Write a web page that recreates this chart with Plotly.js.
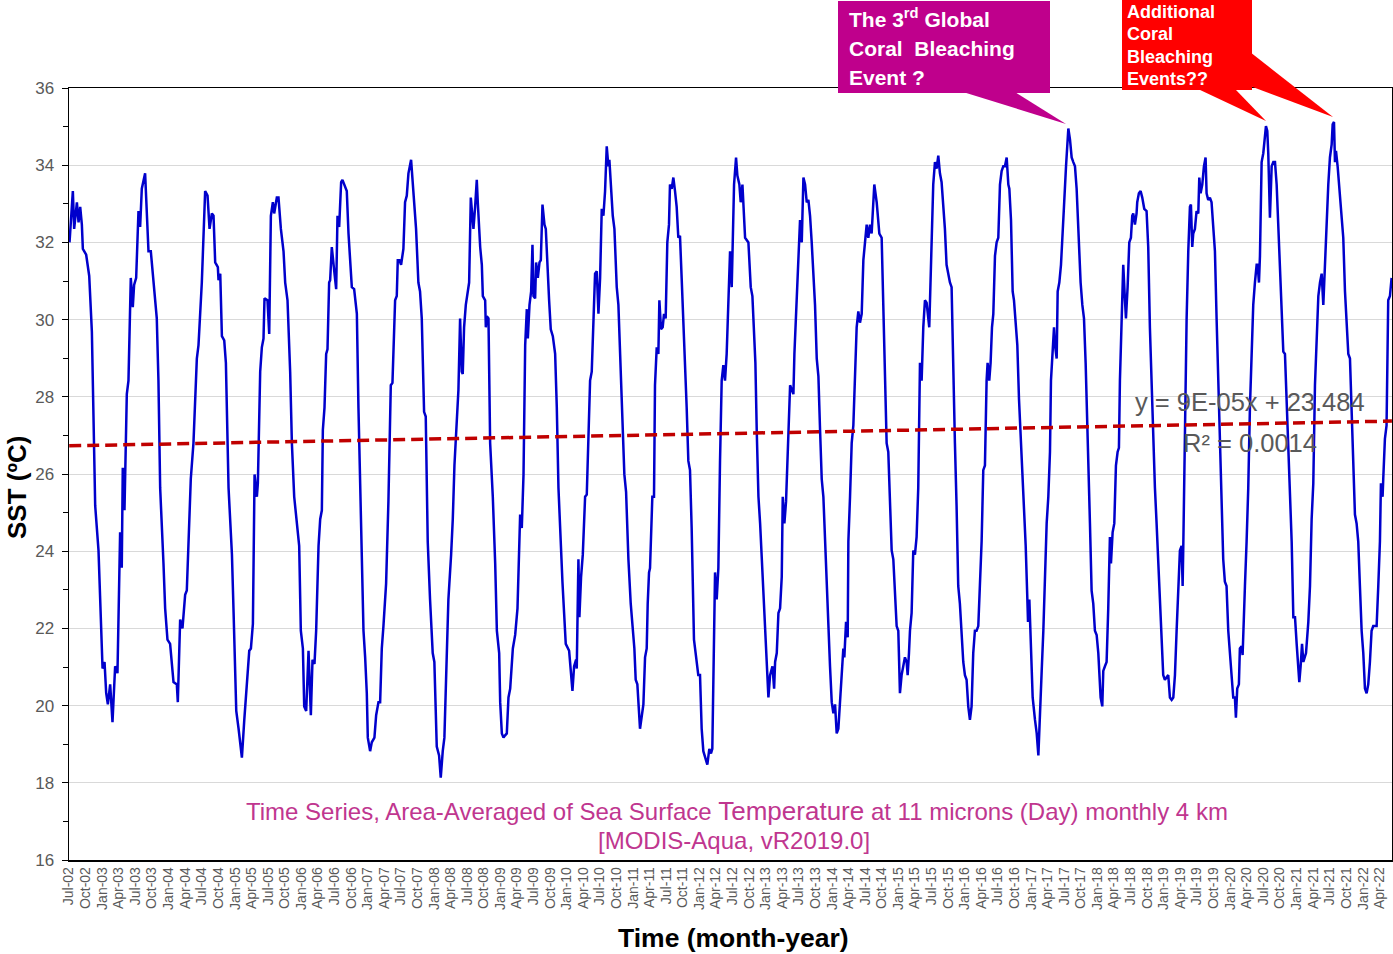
<!DOCTYPE html>
<html>
<head>
<meta charset="utf-8">
<script src="https://cdn.plot.ly/plotly-3.0.1.min.js"></script>
<style>
html,body{margin:0;padding:0;background:#fff;}
#chart{width:1393px;height:954px;}
</style>
</head>
<body>
<div id="chart"></div>
<script>
// Time as decimal year, SST in degrees C
const sstTime = [
2002.505,2002.555,2002.575,2002.616,2002.641,2002.666,2002.691,2002.706,2002.756,2002.802,
2002.842,2002.867,2002.892,2002.942,2002.968,2003.003,2003.033,2003.058,2003.083,2003.118,
2003.153,2003.193,2003.228,2003.268,2003.293,2003.308,2003.334,2003.369,2003.394,2003.429,
2003.459,2003.479,2003.510,2003.545,2003.570,2003.595,2003.645,2003.696,2003.731,2003.796,
2003.821,2003.846,2003.872,2003.922,2003.947,2003.982,2004.022,2004.073,2004.123,2004.138,
2004.173,2004.208,2004.248,2004.273,2004.298,2004.333,2004.373,2004.424,2004.449,2004.499,
2004.549,2004.585,2004.615,2004.650,2004.675,2004.700,2004.740,2004.750,2004.776,2004.801,
2004.836,2004.861,2004.901,2004.952,2004.977,2005.017,2005.052,2005.077,2005.102,2005.138,
2005.178,2005.213,2005.238,2005.268,2005.293,2005.328,2005.343,2005.378,2005.403,2005.428,
2005.443,2005.488,2005.514,2005.539,2005.569,2005.589,2005.629,2005.654,2005.690,2005.730,
2005.755,2005.790,2005.830,
2005.856,2005.891,2005.931,2005.966,2005.991,2006.022,2006.042,2006.072,2006.107,2006.142,
2006.167,2006.197,2006.222,2006.258,2006.283,2006.308,2006.323,2006.348,2006.373,2006.393,
2006.418,2006.433,2006.458,2006.474,2006.499,2006.524,2006.544,2006.569,2006.599,2006.619,
2006.659,2006.684,2006.710,2006.735,2006.760,2006.795,2006.836,2006.860,2006.885,2006.911,
2006.936,2006.961,2006.986,2007.001,2007.036,2007.061,2007.101,2007.127,2007.162,2007.187,
2007.212,2007.237,2007.277,2007.312,2007.348,2007.373,2007.398,2007.413,2007.438,2007.453,
2007.478,2007.503,2007.538,2007.563,2007.589,2007.614,2007.654,2007.689,2007.729,2007.764,
2007.789,2007.815,2007.850,2007.875,2007.905,2007.940,2007.980,2008.005,2008.041,2008.076,
2008.101,2008.131,2008.156,2008.181,2008.216,2008.257,2008.282,2008.307,2008.342,2008.367,
2008.392,2008.417,2008.432,2008.452,2008.478,2008.503,2008.528,2008.553,2008.578,2008.593,
2008.618,2008.643,2008.658,2008.679,2008.694,2008.719,2008.734,2008.769,2008.779,2008.794,
2008.819,2008.844,2008.884,2008.920,2008.945,2008.980,2008.995,2009.020,2009.045,2009.070,
2009.095,2009.120,2009.146,
2009.186,2009.221,2009.256,2009.281,2009.296,2009.321,2009.347,2009.372,2009.397,2009.412,
2009.437,2009.462,2009.482,2009.497,2009.522,2009.537,2009.563,2009.588,2009.608,2009.633,
2009.663,2009.683,2009.708,2009.733,2009.758,2009.789,2009.824,2009.849,2009.874,2009.899,
2009.934,2009.959,2009.984,2010.035,2010.060,2010.085,2010.110,2010.140,2010.150,2010.175,
2010.190,2010.215,2010.241,2010.276,2010.301,2010.326,2010.351,2010.376,2010.401,2010.426,
2010.452,2010.477,2010.502,2010.527,2010.552,2010.577,2010.602,2010.627,2010.642,2010.667,
2010.693,2010.718,2010.753,2010.778,2010.813,2010.843,2010.868,2010.894,2010.929,2010.964,
2010.994,2011.019,2011.039,2011.064,2011.104,2011.140,2011.155,2011.180,2011.205,2011.220,
2011.240,2011.255,2011.290,2011.315,2011.330,2011.356,2011.381,2011.396,2011.421,2011.446,
2011.466,2011.491,2011.516,2011.541,2011.556,2011.582,2011.607,2011.632,2011.657,2011.682,
2011.707,2011.732,2011.757,2011.782,2011.808,2011.833,2011.858,2011.883,2011.918,2011.943,
2011.983,2012.009,2012.034,2012.059,2012.084,2012.119,2012.149,2012.174,2012.194,2012.210,
2012.235,2012.260,2012.285,2012.310,2012.335,2012.360,2012.385,2012.410,2012.436,2012.461,
2012.486,2012.501,2012.521,2012.551,2012.571,2012.601,2012.621,2012.647,2012.662,2012.687,
2012.737,2012.772,2012.797,2012.822,2012.842,2012.862,2012.888,2012.913,2012.938,2012.963,
2012.988,2013.013,2013.038,2013.063,2013.099,2013.124,2013.139,2013.164,2013.189,2013.214,
2013.239,2013.254,2013.279,2013.304,2013.340,2013.365,2013.390,2013.415,2013.430,2013.450,
2013.475,2013.500,2013.515,2013.541,2013.566,2013.591,2013.616,2013.641,2013.666,2013.691,
2013.741,2013.767,2013.792,2013.817,2013.842,2013.867,2013.892,2013.917,2013.942,2013.967,
2013.993,2014.018,2014.043,2014.068,2014.093,2014.118,2014.143,2014.168,2014.183,2014.209,
2014.234,2014.244,2014.269,2014.294,2014.319,2014.344,2014.369,2014.394,2014.419,2014.445,
2014.470,2014.495,2014.520,2014.545,2014.570,2014.595,2014.620,2014.635,2014.671,2014.696,
2014.711,2014.746,2014.771,2014.796,2014.821,2014.846,2014.872,2014.897,2014.922,2014.947,
2014.972,2014.997,2015.022,2015.047,2015.072,2015.097,2015.123,2015.138,2015.158,2015.173,
2015.198,2015.223,2015.248,2015.273,2015.298,2015.324,2015.349,2015.374,2015.399,2015.424,
2015.464,2015.489,2015.524,2015.550,2015.575,2015.600,2015.625,2015.650,2015.675,2015.700,
2015.725,2015.776,
2015.801,2015.816,2015.836,2015.851,2015.876,2015.901,2015.926,2015.951,2015.977,2016.002,
2016.027,2016.052,2016.077,2016.102,2016.127,2016.152,2016.177,2016.203,2016.228,2016.253,
2016.278,2016.303,2016.328,2016.343,2016.368,2016.388,2016.409,2016.429,2016.454,2016.479,
2016.504,2016.529,2016.554,2016.579,2016.604,2016.630,2016.655,2016.670,2016.695,2016.720,
2016.740,2016.765,2016.790,2016.815,2016.840,2016.866,2016.891,2016.916,2016.941,2016.951,
2016.971,2016.991,2017.021,2017.056,2017.082,2017.107,2017.132,2017.157,2017.182,2017.207,
2017.232,2017.257,2017.282,2017.297,2017.318,2017.343,2017.358,2017.383,2017.398,2017.423,
2017.448,2017.473,2017.493,2017.524,2017.544,2017.559,2017.584,2017.609,2017.634,2017.659,
2017.684,2017.709,2017.744,2017.770,2017.795,2017.820,2017.835,2017.860,2017.885,2017.910,
2017.935,2017.960,2017.986,2018.011,2018.026,2018.046,2018.071,2018.086,2018.111,2018.136,
2018.161,2018.186,2018.202,2018.227,2018.252,2018.277,2018.302,2018.322,2018.337,2018.362,
2018.387,2018.413,2018.428,2018.453,2018.478,2018.503,2018.523,2018.538,2018.563,2018.588,
2018.598,2018.623,2018.649,2018.674,2018.704,2018.739,2018.764,2018.789,2018.814,2018.839,
2018.865,2018.890,2018.915,2018.940,2018.965,2018.990,2019.015,2019.040,2019.066,2019.091,
2019.117,2019.142,2019.167,2019.192,2019.217,2019.242,2019.267,2019.283,2019.293,2019.318,
2019.343,2019.368,2019.393,2019.408,2019.428,2019.443,2019.468,2019.493,2019.519,2019.534,
2019.554,2019.579,2019.604,2019.629,2019.644,2019.669,2019.694,2019.719,2019.745,2019.770,
2019.795,2019.820,2019.845,2019.870,2019.895,2019.920,2019.945,2019.971,2019.996,2020.021,
2020.046,2020.071,2020.086,2020.106,2020.131,2020.146,2020.172,2020.187,2020.197,2020.222,
2020.247,2020.272,2020.297,2020.322,2020.347,2020.372,2020.398,2020.413,2020.433,2020.448,
2020.473,2020.498,2020.523,2020.538,2020.558,2020.573,2020.598,2020.624,2020.649,2020.674,
2020.699,2020.724,2020.749,2020.774,2020.799,2020.824,2020.850,2020.875,2020.900,2020.925,
2020.950,2020.975,2021.000,2021.025,2021.040,2021.060,2021.081,2021.101,2021.116,2021.141,
2021.176,2021.201,2021.226,2021.251,2021.276,2021.302,2021.327,2021.352,2021.377,2021.402,
2021.427,2021.452,2021.477,2021.502,2021.528,2021.543,2021.563,2021.578,2021.593,2021.618,
2021.638,2021.653,2021.678,2021.703,2021.729,2021.754,2021.779,2021.804,2021.829,2021.854,
2021.879,2021.904,2021.929,2021.954,2021.980,2022.005,2022.030,2022.055,2022.080,2022.105,
2022.130,2022.155,2022.181,2022.206,2022.231,2022.256,2022.271,2022.296,2022.306,2022.331,
2022.356,2022.381,2022.407,2022.432
];
const sstValue = [
32.00,33.33,32.35,33.04,32.52,32.92,32.46,31.83,31.68,31.13,
29.69,27.72,25.18,24.02,22.52,20.96,21.13,20.32,20.03,20.55,
19.57,21.02,20.84,24.49,23.57,26.16,25.06,28.07,28.42,31.08,
30.32,30.90,31.08,32.81,32.40,33.39,33.79,31.77,31.77,30.50,
30.03,28.42,25.64,23.68,22.52,21.71,21.60,20.61,20.55,20.09,
22.23,22.00,22.87,22.98,24.31,25.87,26.80,28.99,29.34,30.96,
33.33,33.21,32.35,32.75,32.69,31.48,31.36,31.02,31.19,29.57,
29.46,28.88,25.64,23.91,22.40,19.86,19.40,18.94,18.65,19.63,
20.55,21.42,21.48,22.12,25.99,25.41,25.76,28.65,29.28,29.51,
30.55,30.50,29.63,32.69,33.04,32.75,33.16,33.16,32.35,31.77,
30.96,30.50,28.65,
26.80,25.41,24.72,24.14,21.94,21.48,19.98,19.86,21.42,19.75,
21.19,21.08,21.94,24.14,24.83,25.06,27.14,27.72,29.11,29.23,
30.96,31.02,31.88,31.54,31.19,30.79,32.69,32.40,33.56,33.62,
33.45,33.33,32.23,31.42,30.84,30.79,30.15,27.72,25.64,24.25,
21.94,21.25,20.32,19.17,18.82,19.05,19.17,19.75,20.09,20.09,
21.48,22.06,23.16,25.29,28.30,28.36,30.15,30.50,30.61,31.54,
31.54,31.42,31.83,33.04,33.21,33.79,34.14,33.33,32.35,30.96,
30.73,30.03,27.61,27.49,24.25,22.75,21.36,21.13,18.94,18.71,
18.13,18.82,19.17,20.67,22.75,23.91,24.83,26.22,27.61,28.18,
30.03,28.65,28.59,29.80,30.38,30.73,30.96,33.16,32.58,32.35,
32.92,33.62,33.04,32.35,31.88,31.42,30.61,30.50,29.80,30.09,
30.03,26.80,25.41,23.68,21.94,21.36,20.09,19.28,19.17,19.23,
19.28,20.21,20.44,
21.48,21.83,22.52,24.25,24.95,24.60,25.99,29.34,30.27,29.51,
30.38,30.73,31.94,30.61,30.55,31.48,31.08,31.48,31.54,32.98,
32.46,32.35,31.19,30.50,29.75,29.57,29.11,27.72,25.64,24.49,
23.21,22.40,21.60,21.42,20.79,20.38,21.02,21.19,20.96,23.79,
22.29,23.33,23.91,25.41,25.47,26.68,28.42,28.65,30.03,31.19,
31.25,30.15,31.08,32.87,32.69,33.33,34.49,33.97,34.14,33.39,
32.69,32.35,30.84,30.38,28.76,27.49,25.99,25.53,23.79,22.64,
21.94,21.48,20.67,20.55,19.40,19.86,20.03,21.25,21.48,22.64,
23.45,23.56,25.41,25.41,28.30,29.28,29.11,30.50,29.75,29.80,
30.15,30.03,32.00,32.46,33.50,33.39,33.68,33.33,32.92,32.12,
32.17,31.08,30.03,28.99,27.72,26.34,26.10,24.60,21.71,21.36,
20.79,20.79,19.40,18.82,18.65,18.47,18.88,18.76,18.88,20.79,
23.45,22.75,23.56,26.34,28.42,28.82,28.42,29.11,30.61,31.77,
30.84,31.77,33.50,34.20,33.73,33.50,33.04,33.50,33.04,32.12,
32.00,30.84,30.61,29.34,28.88,27.14,25.41,24.72,23.79,22.98,
21.71,20.79,20.21,20.79,21.02,20.44,21.13,21.36,22.40,22.52,
23.33,25.41,24.72,25.29,27.03,28.30,28.18,28.07,29.11,30.03,
31.19,32.12,32.58,32.00,33.68,33.50,33.04,33.10,32.69,32.00,
30.38,28.99,28.53,27.14,25.87,25.41,24.25,22.98,21.71,21.02,
20.09,19.80,20.03,19.28,19.40,20.21,21.02,21.48,21.25,22.17,
21.77,24.25,25.41,26.80,27.26,28.42,29.80,30.21,29.92,30.15,
31.54,32.00,32.46,32.12,32.46,32.23,33.27,33.50,33.04,32.35,
32.23,32.12,30.38,28.88,26.80,26.57,25.41,24.02,23.79,22.98,
22.06,21.94,20.32,20.79,21.02,21.25,21.13,20.79,21.36,21.94,
22.40,24.02,23.91,24.37,25.64,28.88,28.42,29.80,30.50,30.44,
29.80,31.19,33.50,34.08,33.91,34.25,33.79,33.56,32.92,32.35,
31.42,30.96,
30.84,29.46,27.72,26.80,25.18,23.10,22.64,21.94,21.13,20.79,
20.67,19.98,19.63,19.98,21.36,21.94,21.94,22.06,23.10,24.25,
26.10,26.22,28.42,28.88,28.42,28.88,29.80,30.15,31.65,32.00,
32.12,33.50,33.85,33.97,33.97,34.20,33.50,33.39,32.58,30.73,
30.50,29.92,29.34,27.95,27.03,25.76,25.18,24.14,22.75,22.17,
22.75,21.48,20.21,19.63,19.28,18.71,20.09,20.90,21.94,23.33,
24.72,25.41,26.57,28.42,29.23,29.80,29.34,28.99,30.73,30.96,
31.42,32.46,32.92,33.97,34.43,34.95,34.66,34.20,34.08,33.97,
33.39,32.35,30.96,30.38,30.03,28.88,27.72,26.34,24.72,22.98,
22.64,21.94,21.83,21.36,20.90,20.21,19.98,20.90,21.02,21.13,
22.52,24.37,23.68,24.49,24.72,26.22,26.57,26.68,28.42,29.80,
31.42,30.50,30.03,30.84,32.00,32.12,32.69,32.75,32.46,32.75,
33.04,33.27,33.33,33.16,32.87,32.81,31.88,29.80,28.42,26.80,
25.64,24.72,23.68,22.64,22.06,20.79,20.67,20.73,20.79,20.21,
20.15,20.21,20.79,21.94,23.10,24.02,24.14,23.10,24.14,27.14,
30.03,31.77,32.92,32.98,31.88,32.23,32.35,32.81,32.75,33.68,
33.27,33.50,33.97,34.20,33.27,33.10,33.16,33.04,32.35,31.77,
30.03,28.42,26.57,24.95,23.79,23.21,23.10,21.94,21.36,20.90,
20.21,20.21,19.69,20.44,20.55,21.48,21.54,21.31,21.94,23.10,
24.25,25.64,27.72,29.23,30.38,30.96,31.42,31.42,30.96,31.65,
34.08,34.31,34.89,35.01,34.89,34.31,32.64,33.97,34.08,34.08,
33.50,32.35,31.19,30.03,29.17,29.11,27.72,26.57,25.41,24.25,
22.29,22.29,21.60,20.79,20.61,21.02,21.60,21.13,21.25,21.36,
22.17,23.10,24.83,25.76,28.30,29.46,30.61,30.96,31.19,30.38,
31.42,32.92,33.50,34.20,34.54,35.06,35.12,34.08,34.37,33.97,
33.50,33.39,32.81,32.12,30.73,29.69,29.11,28.99,27.72,26.57,
24.95,24.72,24.25,23.10,21.94,21.36,20.44,20.32,20.55,21.13,
21.94,22.06,22.06,22.06,23.10,24.25,25.76,25.41,25.87,26.91,
27.26,30.50,30.61,31.08
];
// Linear trend line end values
const trendTime = [2002.5, 2022.437];
const trendValue = [26.73, 27.37];

function toDate(t){
  const y = Math.floor(t);
  const s = Date.UTC(y,0,1), e = Date.UTC(y+1,0,1);
  return new Date(s + (t-y)*(e-s)).toISOString().replace('T',' ').replace('Z','');
}

const X = p => (p-69)/1323;
const Y = p => (860-p)/772;

const traces = [
  {x: sstTime.map(toDate), y: sstValue, type:'scatter', mode:'lines',
   line:{color:'#0000CC', width:2.5}, hoverinfo:'x+y'},
  {x: trendTime.map(toDate), y: trendValue, type:'scatter', mode:'lines',
   line:{color:'#C00000', width:3.5, dash:'12px,6px'}, hoverinfo:'skip'}
];

const magenta = '#BF008C';
const red = '#FF0000';
const font = '"Liberation Sans", Arial, sans-serif';

const shapes = [
  {type:'rect', xref:'paper', yref:'paper', x0:X(838), x1:X(1050), y0:Y(93), y1:Y(1),
   fillcolor:magenta, line:{width:0}, layer:'above'},
  {type:'path', xref:'paper', yref:'paper', fillcolor:magenta, line:{width:0}, layer:'above',
   path:`M ${X(963)},${Y(92)} L ${X(1015)},${Y(92)} L ${X(1066)},${Y(124)} Z`},
  {type:'rect', xref:'paper', yref:'paper', x0:X(1122), x1:X(1252), y0:Y(90), y1:Y(0),
   fillcolor:red, line:{width:0}, layer:'above'},
  {type:'path', xref:'paper', yref:'paper', fillcolor:red, line:{width:0}, layer:'above',
   path:`M ${X(1198)},${Y(89)} L ${X(1235)},${Y(89)} L ${X(1266)},${Y(121)} Z`},
  {type:'path', xref:'paper', yref:'paper', fillcolor:red, line:{width:0}, layer:'above',
   path:`M ${X(1250)},${Y(52)} L ${X(1250)},${Y(86)} L ${X(1333)},${Y(117)} Z`}
];

function ann(text, px, py, opts){
  return Object.assign({text:text, x:X(px), y:Y(py), xref:'paper', yref:'paper',
    showarrow:false, xanchor:'center', yanchor:'middle'}, opts||{});
}
const white = (s)=>({family:font, size:s, color:'#FFFFFF'});
const subColor = '#C0368F';

const annotations = [
  ann('<b>The 3<sup>rd</sup> Global</b>', 847, 18, {xanchor:'left', font:white(21)}),
  ann('<b>Coral  Bleaching</b>', 847, 48, {xanchor:'left', font:white(21)}),
  ann('<b>Event ?</b>', 847, 78, {xanchor:'left', font:white(21)}),
  ann('<b>Additional</b>', 1125, 12, {xanchor:'left', font:white(18)}),
  ann('<b>Coral</b>', 1125, 34, {xanchor:'left', font:white(18)}),
  ann('<b>Bleaching</b>', 1125, 57, {xanchor:'left', font:white(18)}),
  ann('<b>Events??</b>', 1125, 79, {xanchor:'left', font:white(18)}),
  ann('y = 9E-05x + 23.484', 1250, 402, {font:{family:font, size:25.5, color:'#595959'}}),
  ann('R² = 0.0014', 1250, 443, {font:{family:font, size:25.5, color:'#595959'}}),
  ann('Time Series, Area-Averaged of Sea Surface <span style="font-size:26px">Temperature</span> at 11 microns (Day) monthly 4 km',
      737, 811, {font:{family:font, size:24, color:subColor}}),
  ann('[MODIS-Aqua, vR2019.0]', 734, 840, {font:{family:font, size:24, color:subColor}}),
  ann('<b>SST (ºC)</b>', 17, 487, {textangle:-90, font:{family:font, size:26, color:'#000'}}),
  ann('<b>Time (month-year)</b>', 733, 938, {font:{family:font, size:26.5, color:'#000'}})
];

const layout = {
  width:1393, height:954,
  margin:{l:69, r:1, t:88, b:94, pad:0},
  paper_bgcolor:'#FFFFFF', plot_bgcolor:'#FFFFFF',
  showlegend:false,
  font:{family:font, color:'#595959'},
  xaxis:{type:'date', range:[toDate(2002.497), toDate(2022.438)],
    tick0:'2002-07-01', dtick:'M3', tickformat:'%b-%y', tickangle:-90,
    tickfont:{family:font, size:14, color:'#595959'},
    showgrid:false, zeroline:false, showline:true, linecolor:'#000', linewidth:1.5,
    mirror:true, ticks:'', automargin:false},
  yaxis:{range:[16,36], tick0:16, dtick:2, showgrid:true, gridcolor:'#D9D9D9', gridwidth:1,
    zeroline:false, showline:true, linecolor:'#000', linewidth:1.5, mirror:true,
    ticks:'outside', ticklen:6, tickcolor:'#000', tickwidth:1, ticklabelstandoff:4,
    minor:{dtick:1, ticks:'outside', ticklen:5, tickcolor:'#000', showgrid:false},
    tickfont:{family:font, size:17, color:'#595959'}, automargin:false},
  shapes:shapes,
  annotations:annotations
};

Plotly.newPlot('chart', traces, layout, {displayModeBar:false, staticPlot:true});
</script>
</body>
</html>
